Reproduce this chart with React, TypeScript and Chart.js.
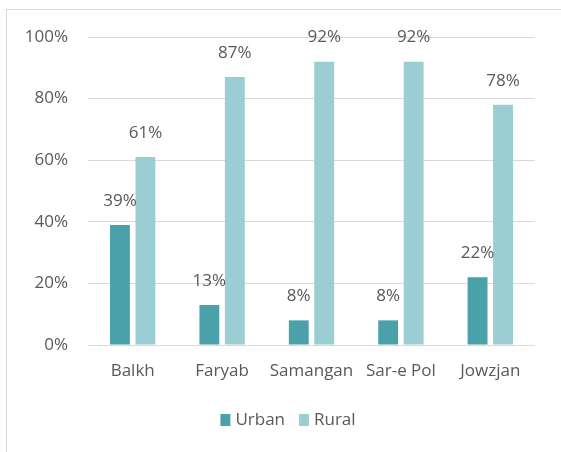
import React, { useEffect, useRef } from "react";
import { Chart, registerables } from "chart.js";

Chart.register(...registerables);

const categories = ["Balkh", "Faryab", "Samangan", "Sar-e Pol", "Jowzjan"];
const urbanValues = [39, 13, 8, 8, 22];
const ruralValues = [61, 87, 92, 92, 78];
const seriesNames = ["Urban", "Rural"];
const yTicks = [0, 20, 40, 60, 80, 100];

const FONT = "'Open Sans', 'Noto Sans', sans-serif";
const TEXT = "#595959";
const FS = 17;
const COLORS = ["#4BA1A9", "#9ACED3"];

const labelPlugin = {
  id: "barLabels",
  afterDatasetsDraw(chart: any) {
    const ctx = chart.ctx;
    ctx.save();
    ctx.font = `${FS}px ${FONT}`;
    ctx.fillStyle = TEXT;
    ctx.textAlign = "center";
    ctx.textBaseline = "middle";
    chart.data.datasets.forEach((ds: any, i: number) => {
      const meta = chart.getDatasetMeta(i);
      meta.data.forEach((bar: any, j: number) => {
        ctx.fillText(ds.data[j] + "%", bar.x, bar.y - 24);
      });
    });
    ctx.restore();
  },
};

const legendPlugin = {
  id: "customLegend",
  afterDraw(chart: any) {
    const ctx = chart.ctx;
    ctx.save();
    ctx.font = `${FS}px ${FONT}`;
    const boxW = 10;
    const boxH = 12;
    const gapText = 5;
    const gapItem = 14;
    const items = chart.data.datasets.map((ds: any) => ({
      label: ds.label,
      color: ds.backgroundColor,
      w: ctx.measureText(ds.label).width,
    }));
    const total =
      items.reduce((s: number, it: any) => s + boxW + gapText + it.w, 0) +
      gapItem * (items.length - 1);
    const centerX = 288;
    const cy = 420;
    let x = centerX - total / 2;
    ctx.textBaseline = "middle";
    ctx.textAlign = "left";
    items.forEach((it: any) => {
      ctx.fillStyle = it.color;
      ctx.fillRect(x, cy - boxH / 2, boxW, boxH);
      x += boxW + gapText;
      ctx.fillStyle = TEXT;
      ctx.fillText(it.label, x, cy);
      x += it.w + gapItem;
    });
    ctx.restore();
  },
};

export default function App() {
  const ref = useRef<HTMLCanvasElement>(null);
  useEffect(() => {
    if (!ref.current) return;
    const chart = new Chart(ref.current, {
      type: "bar",
      data: {
        labels: categories,
        datasets: [
          {
            label: seriesNames[0],
            data: urbanValues,
            backgroundColor: COLORS[0],
            categoryPercentage: 0.57,
            barPercentage: 0.78,
          },
          {
            label: seriesNames[1],
            data: ruralValues,
            backgroundColor: COLORS[1],
            categoryPercentage: 0.57,
            barPercentage: 0.78,
          },
        ],
      },
      options: {
        responsive: false,
        animation: false,
        layout: { padding: { left: 0, right: 26, top: 37, bottom: 57 } },
        plugins: {
          legend: { display: false },
          tooltip: { enabled: false },
        },
        scales: {
          x: {
            grid: { display: false, drawTicks: false },
            border: { display: false },
            ticks: {
              color: TEXT,
              font: { family: FONT, size: FS },
              padding: 16,
              maxRotation: 0,
              autoSkip: false,
            },
            afterFit(scale: any) {
              scale.height = 50;
            },
          },
          y: {
            min: 0,
            max: 100,
            afterBuildTicks(scale: any) {
              scale.ticks = yTicks.map((v) => ({ value: v }));
            },
            grid: { color: "#D9D9D9", drawTicks: false, lineWidth: 1 },
            border: { display: false },
            ticks: {
              color: TEXT,
              font: { family: FONT, size: FS },
              padding: 20,
              callback: (v: any) => v + "%",
            },
            afterFit(scale: any) {
              scale.width = 88;
            },
          },
        },
      },
      plugins: [labelPlugin, legendPlugin],
    });
    return () => chart.destroy();
  }, []);

  return (
    <div style={{ position: "absolute", left: 0, top: 0, width: 561, height: 452, background: "#fff" }}>
      <div
        style={{
          position: "absolute",
          left: 6,
          top: 9,
          right: 0,
          bottom: 0,
          borderTop: "1px solid #D9D9D9",
          borderLeft: "1px solid #D9D9D9",
        }}
      />
      <canvas ref={ref} width={561} height={452} style={{ position: "absolute", left: 0, top: 0 }} />
    </div>
  );
}
